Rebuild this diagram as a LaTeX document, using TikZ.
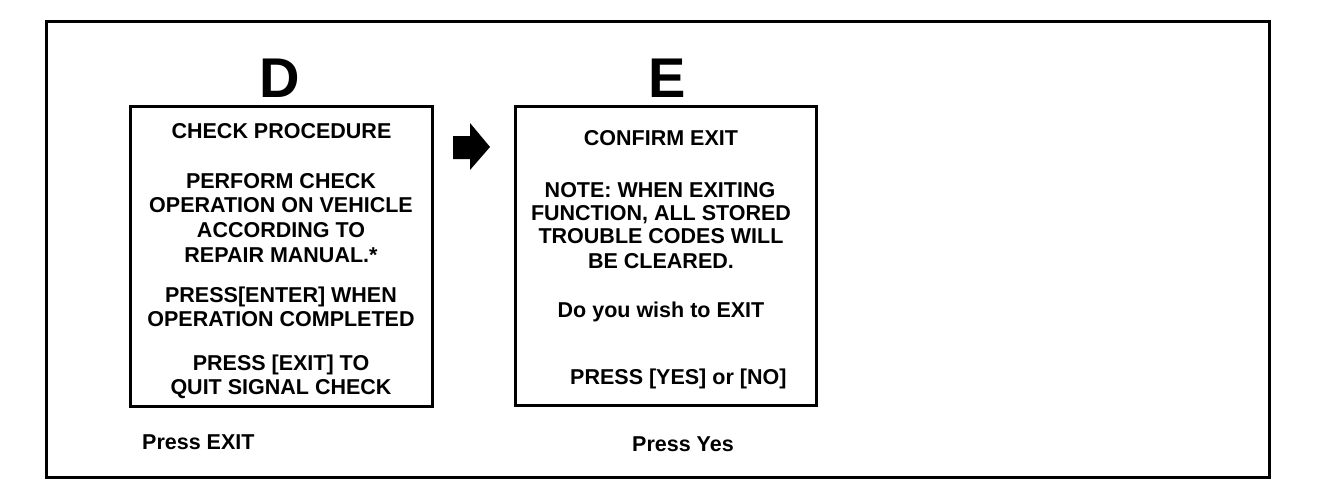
\documentclass[tikz,border=0pt]{standalone}
\usepackage{fontspec}
\setmainfont{Liberation Sans}
\begin{document}
\begin{tikzpicture}[x=1pt,y=-1pt,
  frame/.style={draw=black,line width=3pt},
  screen/.style={draw=black,line width=3pt,inner sep=0pt},
  txt/.style={inner sep=0pt,anchor=base,font=\fontsize{21.5}{24}\selectfont\bfseries},
  big/.style={inner sep=0pt,anchor=base,font=\fontsize{56}{60}\selectfont\bfseries}]
\useasboundingbox (0,0) rectangle (1344,496);
\draw[frame] (46,21) rectangle (1269,477);
% boxes
\node[screen,minimum width=302pt,minimum height=300pt] (boxD) at (281,256) {};
\node[screen,minimum width=301pt,minimum height=299pt] (boxE) at (665.5,255.5) {};
% titles
\node[big] (tD) at (280,97) {D};
\node[big] (tE) at (667,97) {E};
% block arrow
\fill[black] (453,136) -- (470,136) -- (470,123) -- (490,147) -- (470,170) -- (470,159) -- (453,159) -- cycle;
% D text
\node[txt] (d1) at (281.5,138) {CHECK PROCEDURE};
\node[txt] (d2) at (281,188) {PERFORM CHECK};
\node[txt] (d3) at (281,212.7) {OPERATION ON VEHICLE};
\node[txt] (d4) at (281,237.3) {ACCORDING TO};
\node[txt] (d5) at (281,262) {REPAIR MANUAL.*};
\node[txt] (d6) at (281,302) {PRESS[ENTER] WHEN};
\node[txt] (d7) at (281,326) {OPERATION COMPLETED};
\node[txt] (d8) at (281,370) {PRESS [EXIT] TO};
\node[txt] (d9) at (281,394) {QUIT SIGNAL CHECK};
% E text
\node[txt] (e1) at (661,145) {CONFIRM EXIT};
\node[txt] (e2) at (660,197) {NOTE: WHEN EXITING};
\node[txt] (e3) at (661,220) {FUNCTION, ALL STORED};
\node[txt] (e4) at (661,243.5) {TROUBLE CODES WILL};
\node[txt] (e5) at (661,268) {BE CLEARED.};
\node[txt] (e6) at (661,317) {Do you wish to EXIT};
\node[txt,anchor=base west] (e7) at (570,384) {PRESS [YES] or [NO]};
% captions
\node[txt,anchor=base west] (cD) at (142,449) {Press EXIT};
\node[txt,anchor=base west] (cE) at (632,451) {Press Yes};
\end{tikzpicture}
\end{document}
